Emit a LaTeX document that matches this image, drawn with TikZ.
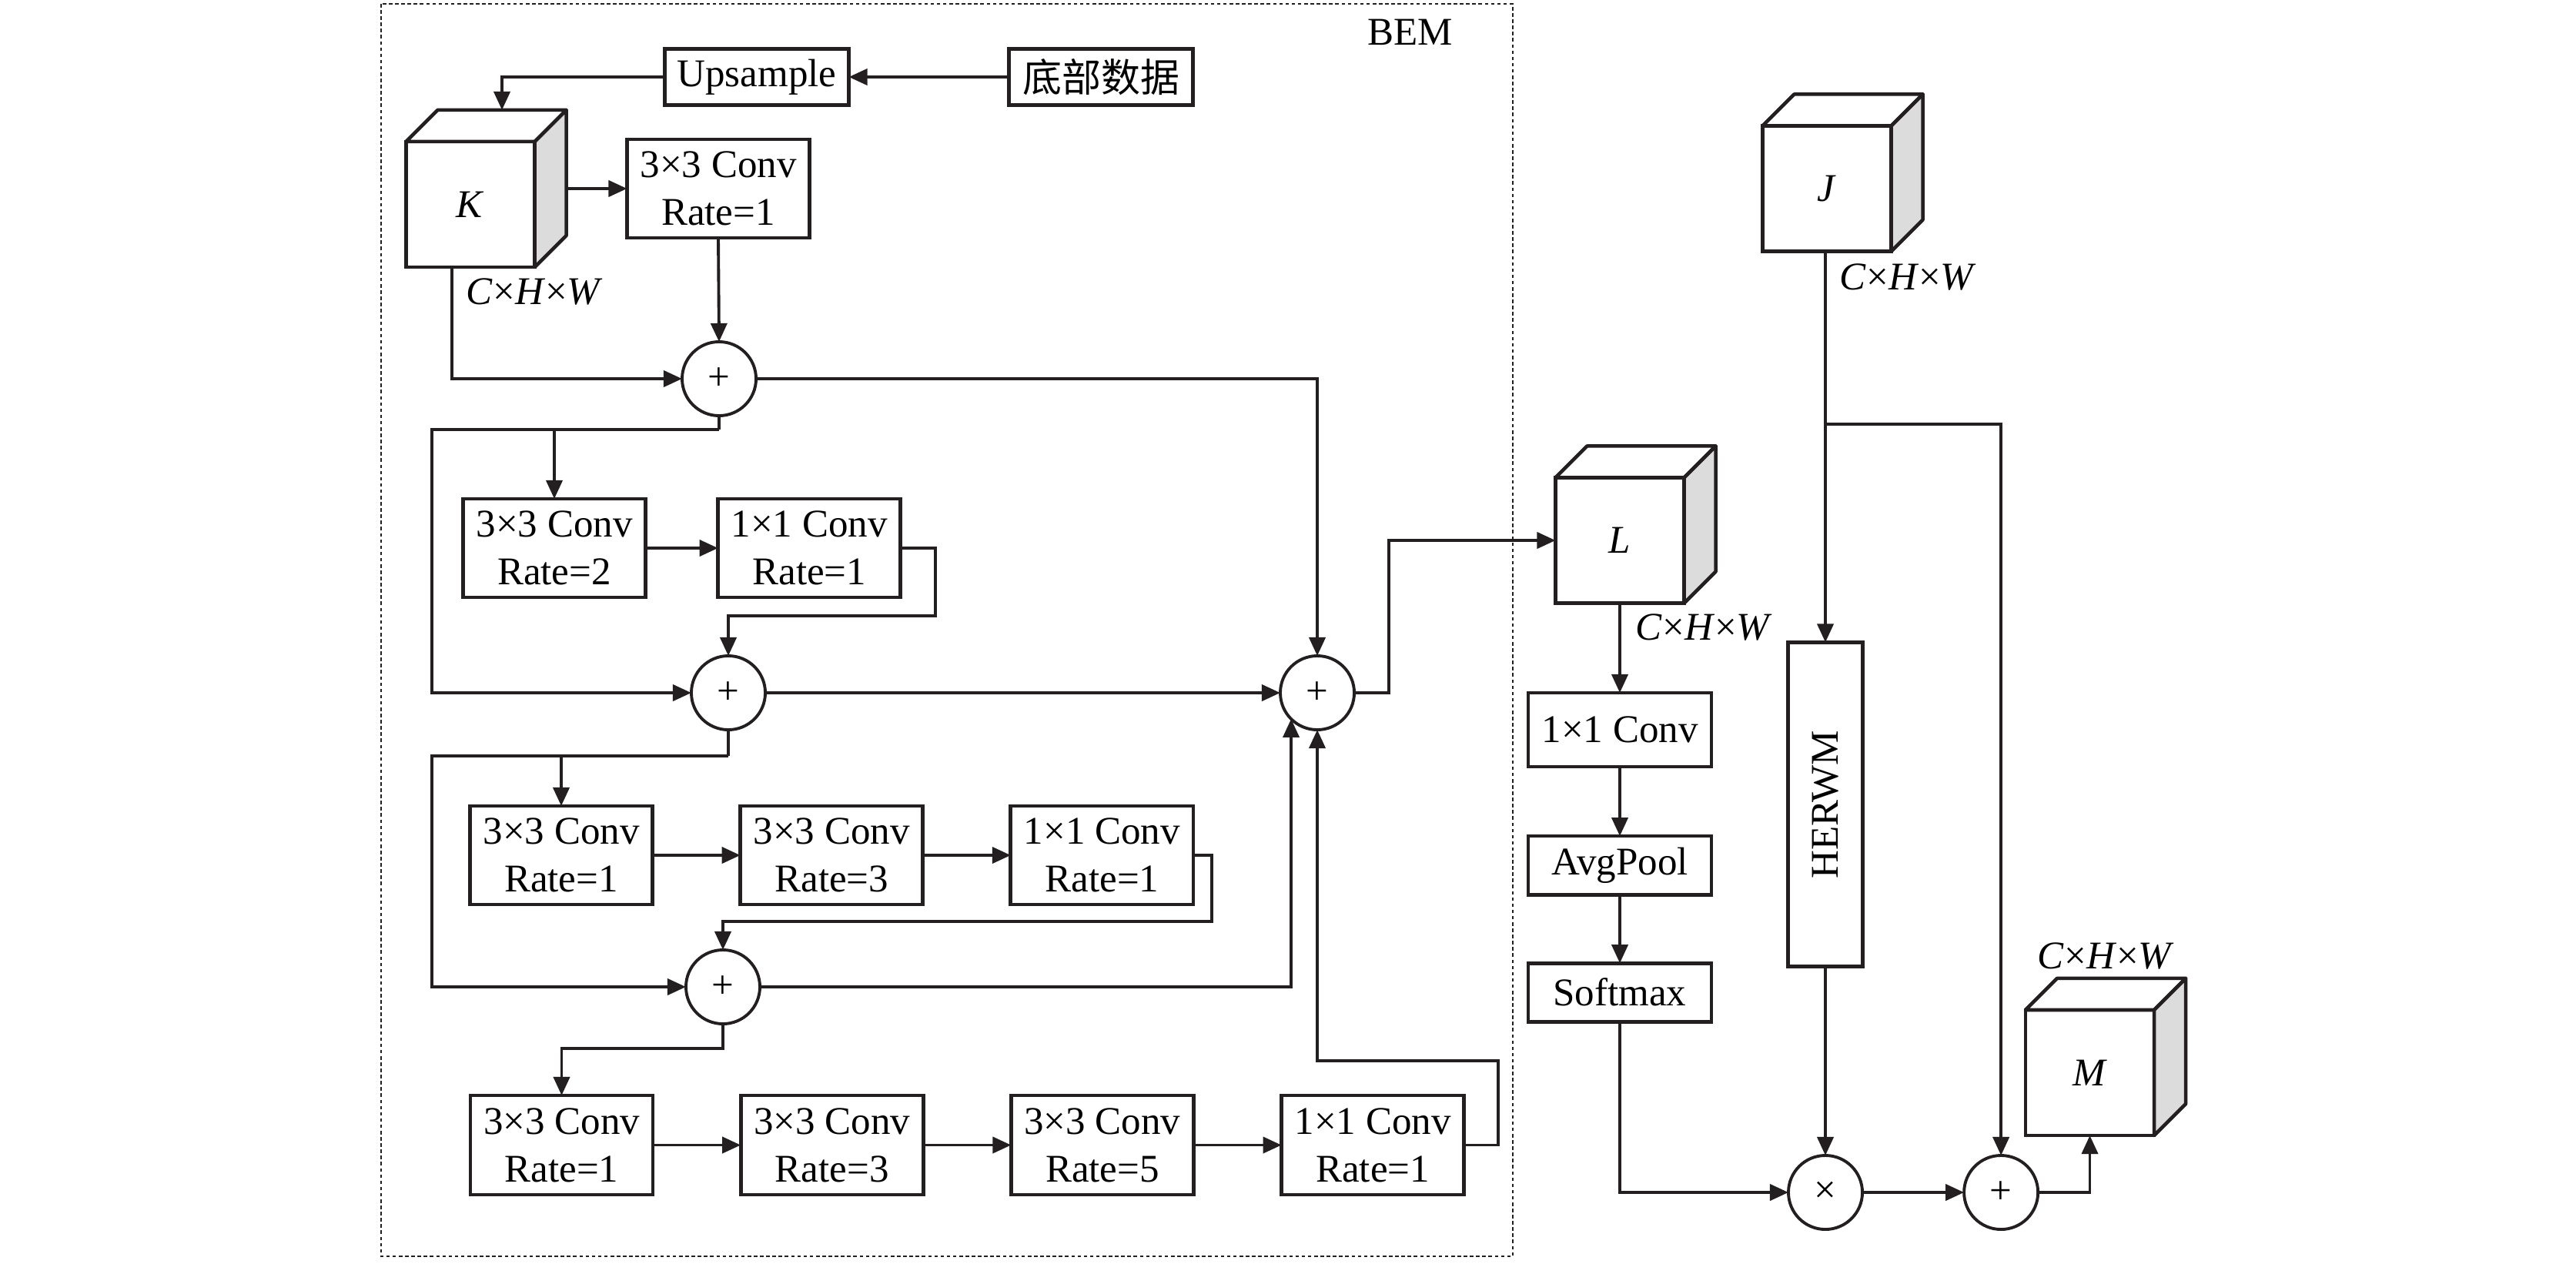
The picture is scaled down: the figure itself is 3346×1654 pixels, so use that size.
\documentclass[tikz,border=0pt]{standalone}
\usepackage{fontspec}
\setmainfont{Liberation Serif}
\newfontfamily\cjk{Noto Sans CJK SC}
\usepackage{graphicx}
\usepackage{xcolor}
\definecolor{ink}{HTML}{231F20}
\definecolor{sidegray}{HTML}{DCDCDC}
\usepackage{tikz}
\usetikzlibrary{arrows.meta,positioning,calc}
\newcommand{\figfont}{\fontsize{14.5pt}{17.6pt}\selectfont}
\newcommand{\chw}{\textit{C}×\textit{H}×\textit{W}}
\tikzset{
  op/.style={draw=ink, line width=1.35pt, align=center, font=\figfont,
             inner sep=1pt, outer sep=0pt, minimum width=2.37cm, minimum height=1.28cm},
  opflat/.style={op, minimum width=2.38cm, minimum height=0.76cm},
  sumop/.style={circle, draw=ink, line width=1.1pt, font=\figfont,
                inner sep=0pt, outer sep=0pt, minimum size=0.96cm},
  cubeface/.style={draw=ink, line width=1.3pt, fill=white, font=\figfont,
                   outer sep=0pt, minimum width=1.67cm, minimum height=1.63cm},
  cubeedge/.style={draw=ink, line width=1.3pt, line join=round},
  dimlbl/.style={font=\figfont, inner sep=0pt},
  ar/.style={-{Triangle[length=2.4mm,width=2.1mm]}, draw=ink, line width=1.1pt},
  ln/.style={draw=ink, line width=1.1pt},
  bemframe/.style={draw=ink, line width=0.6pt, dash pattern=on 1.3pt off 1pt},
}
% feature map drawn as a cube: name, x, y, label
\newcommand{\featmap}[4]{%
  \node[cubeface] (#1) at (#2,#3) {\textit{#4}};
  \draw[cubeedge, fill=white] (#1.north west) -- ++(0.41cm,0.41cm)
    -- ($(#1.north east)+(0.41cm,0.41cm)$) -- (#1.north east) -- cycle;
  \draw[cubeedge, fill=sidegray] (#1.north east) -- ++(0.41cm,0.41cm)
    -- ($(#1.south east)+(0.41cm,0.41cm)$) -- (#1.south east) -- cycle;
  \coordinate (#1top) at ($(#1.north)+(0.41cm,0.41cm)$);
  \coordinate (#1side) at ($(#1.east)+(0.41cm,0.205cm)$);
}

\begin{document}
\begin{tikzpicture}[x=0.01cm, y=-0.01cm, node distance=1.14cm]
  \useasboundingbox[fill=white] (0,0) rectangle (3346,1654);
  \draw[bemframe] (495,5) rectangle (1965,1632);
  \node[dimlbl] (bem) at (1832,42) {BEM};

  \node[op, minimum width=2.39cm, minimum height=0.73cm] (up) at (983,100) {Upsample};
  \node[op, minimum width=2.39cm, minimum height=0.73cm, right=2.08cm of up] (bot) {\cjk 底部数据};
  \featmap{K}{611}{265.5}{K}
  \node[op] (c1) at (933,245) {3×3 Conv\\Rate=1};
  \node[sumop] (s1) at (934,492) {+};
  \node[op] (c2a) at (720,712) {3×3 Conv\\Rate=2};
  \node[op, right=0.94cm of c2a] (c2b) {1×1 Conv\\Rate=1};
  \node[sumop] (s2) at (946,900) {+};
  \node[op] (c3a) at (729,1111) {3×3 Conv\\Rate=1};
  \node[op, right=of c3a] (c3b) {3×3 Conv\\Rate=3};
  \node[op, right=of c3b] (c3c) {1×1 Conv\\Rate=1};
  \node[sumop] (s3) at (939,1282) {+};
  \node[op, minimum height=1.29cm] (c4a) at (729.5,1487.5) {3×3 Conv\\Rate=1};
  \node[op, minimum height=1.29cm, right=of c4a] (c4b) {3×3 Conv\\Rate=3};
  \node[op, minimum height=1.29cm, right=of c4b] (c4c) {3×3 Conv\\Rate=5};
  \node[op, minimum height=1.29cm, right=of c4c] (c4d) {1×1 Conv\\Rate=1};
  \node[sumop] (s4) at (1711,900) {+};

  \featmap{L}{2104}{702}{L}
  \node[op, minimum width=2.38cm, minimum height=0.96cm] (k1) at (2104,948) {1×1 Conv};
  \node[opflat, below=0.9cm of k1] (pool) {AvgPool};
  \node[opflat, below=0.89cm of pool] (soft) {Softmax};
  \featmap{J}{2373}{245}{J}
  \node[op, minimum width=0.97cm, minimum height=4.21cm] (herwm) at (2371,1045) {\rotatebox{90}{HERWM}};
  \node[sumop] (mul) at (2371,1549) {×};
  \node[sumop, right=1.32cm of mul] (s5) {+};
  \featmap{M}{2714.5}{1393.5}{M}

  \node[dimlbl] (kdim) at ($(K.south east)+(0cm,-0.32cm)$) {\chw};
  \node[dimlbl] (ldim) at ($(L.south east)+(0.26cm,-0.31cm)$) {\chw};
  \node[dimlbl] (jdim) at ($(J.south east)+(0.22cm,-0.33cm)$) {\chw};
  \node[dimlbl] (mdim) at ($(M.north)+(0.21cm,0.70cm)$) {\chw};

  \coordinate (lft) at (561,0);
  \coordinate (j1) at ($(s1.south)+(0cm,-0.18cm)$);
  \coordinate (j2) at ($(s2.south)+(0cm,-0.34cm)$);
  \coordinate (jb) at (2371,551);

  \draw[ar] (bot.west) -- (up.east);
  \draw[ar] (up.west) -| (Ktop);
  \draw[ar] (Kside) -- (c1.west);
  \draw[ar] ([xshift=-0.24cm]K.south) |- (s1.west);
  \draw[ar] (c1.south) -- (s1.north);
  \draw[ar] (s1.east) -| (s4.north);
  \draw[ln] (s1.south) -- (j1);
  \draw[ar] (j1) -| (c2a.north);
  \draw[ar] (j1) -| (lft |- s2.west) -- (s2.west);
  \draw[ar] (c2a) -- (c2b);
  \draw[ar] (c2b.east) -- ++(0.45cm,0cm) -- ++(0cm,-0.88cm) -| (s2.north);
  \draw[ar] (s2.east) -- (s4.west);
  \draw[ln] (s2.south) -- (j2);
  \draw[ar] (j2) -| (c3a.north);
  \draw[ar] (j2) -| (lft |- s3.west) -- (s3.west);
  \draw[ar] (c3a) -- (c3b);
  \draw[ar] (c3b) -- (c3c);
  \draw[ar] (c3c.east) -- ++(0.24cm,0cm) -- ++(0cm,-0.86cm) -| (s3.north);
  \draw[ar] (s3.east) -| (s4.south west);
  \draw[ar] (s3.south) -- ++(0cm,-0.32cm) -| (c4a.north);
  \draw[ar] (c4a) -- (c4b);
  \draw[ar] (c4b) -- (c4c);
  \draw[ar] (c4c) -- (c4d);
  \draw[ar] (c4d.east) -- ++(0.44cm,0cm) -- ++(0cm,1.095cm) -| (s4.south);
  \draw[ar] (s4.east) -- ++(0.45cm,0cm) |- (L.west);
  \draw[ar] (L.south) -- (k1.north);
  \draw[ar] (k1) -- (pool);
  \draw[ar] (pool) -- (soft);
  \draw[ar] (soft.south) |- (mul.west);
  \draw[ar] (herwm.north |- J.south) -- (herwm.north);
  \draw[ar] (jb) -| (s5.north);
  \draw[ar] (herwm.south) -- (mul.north);
  \draw[ar] (mul.east) -- (s5.west);
  \draw[ar] (s5.east) -| (M.south);
\end{tikzpicture}
\end{document}
